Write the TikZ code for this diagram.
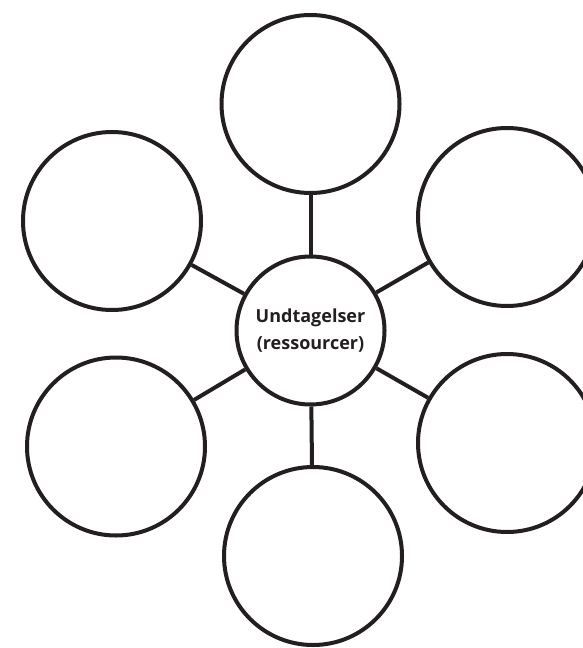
\documentclass[tikz,border=0pt]{standalone}
\usepackage{fontspec}
\setmainfont{Open Sans}
\definecolor{ink}{HTML}{231F20}
\begin{document}
\begin{tikzpicture}[x=0.75pt,y=-0.75pt,
  bubble/.style={circle,draw=ink,line width=3pt,fill=white,inner sep=0pt,minimum size=133.5pt},
  hub/.style={circle,draw=ink,line width=3pt,fill=white,inner sep=0pt,minimum size=111pt,
    align=center,font=\bfseries\fontsize{13.5}{20}\selectfont,text=ink},
  link/.style={draw=ink,line width=3pt}]
\useasboundingbox (0,0) rectangle (582,648);
\node[hub] (c) at (310.5,330.5) {Undtagelser\\(ressourcer)};
\node[bubble] (t) at (310.5,104) {};
\node[bubble] (ul) at (112,221) {};
\node[bubble] (ur) at (507,217) {};
\node[bubble] (ll) at (116,446.5) {};
\node[bubble] (b) at (313,556) {};
\node[bubble] (lr) at (507,443) {};
\foreach \n in {t,ul,ur,ll,b,lr} \draw[link] (c) -- (\n);
\end{tikzpicture}
\end{document}
